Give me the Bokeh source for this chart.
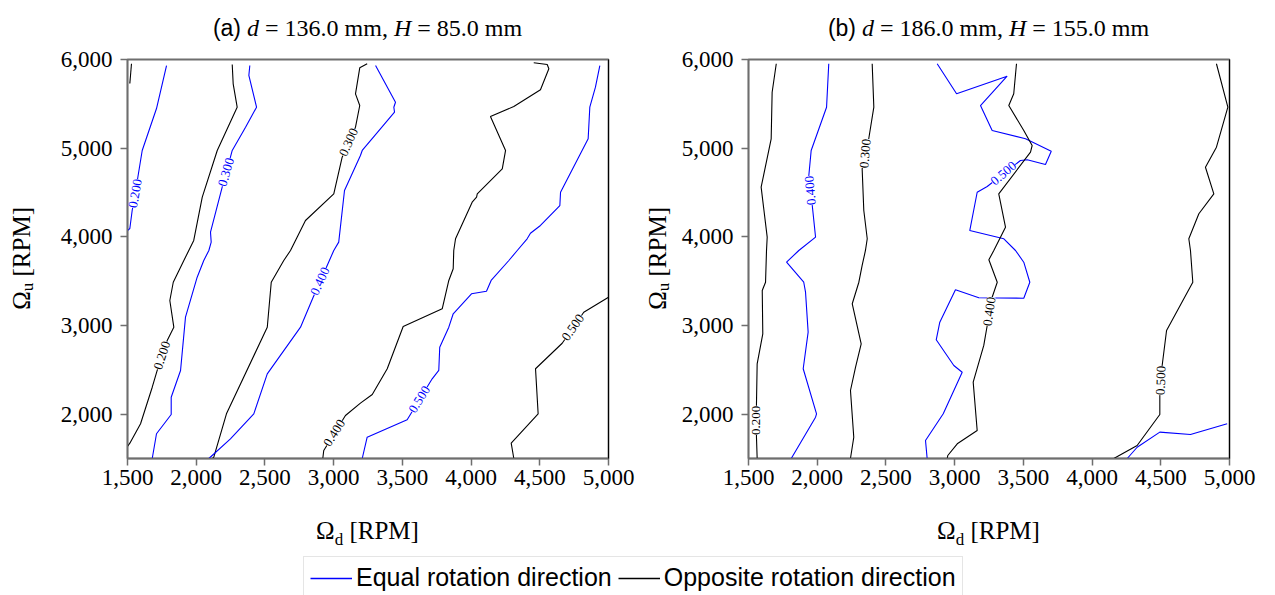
from bokeh.plotting import figure
from bokeh.models import (Range1d, FixedTicker, NumeralTickFormatter, LinearAxis, Div,
                          LabelSet, ColumnDataSource, Legend, LegendItem)
from bokeh.layouts import column, row
from bokeh.embed import file_html
from bokeh.resources import INLINE

BLUE = "#0000ff"
BLACK = "#000000"
SERIF = "Liberation Serif"
SANS = "Liberation Sans"

X_TICKS = [1500, 2000, 2500, 3000, 3500, 4000, 4500, 5000]
Y_TICKS = [2000, 3000, 4000, 5000, 6000]

# ---------------- panel (a): d = 136 mm, H = 85 mm ----------------
a_opp_010_x = [1529, 1517]
a_opp_010_y = [5952, 5729]
a_eq_020_x = [1784, 1711, 1607, 1575, 1534, 1517, 1500]
a_eq_020_y = [5932, 5447, 4974, 4669, 4297, 4094, 4070]
a_opp_020_x = [2262, 2269, 2298, 2153, 2044, 1982, 1910, 1833, 1808, 1837, 1789, 1716, 1680, 1595, 1517, 1500]
a_opp_020_y = [5944, 5726, 5462, 4974, 4447, 3959, 3733, 3488, 3282, 2981, 2831, 2493, 2304, 1892, 1673, 1635]
a_eq_030_x = [2390, 2383, 2439, 2359, 2262, 2249, 2189, 2104, 2109, 2092, 2055, 2007, 1922, 1886, 1818, 1818, 1711, 1680]
a_eq_030_y = [5932, 5820, 5462, 5237, 4974, 4898, 4560, 4052, 3940, 3846, 3733, 3545, 3094, 2493, 2191, 1996, 1779, 1500]
a_opp_030_x = [3244, 3190, 3159, 3190, 3159, 3062, 3001, 2795, 2686, 2637, 2546, 2517, 2220, 2128, 2118]
a_opp_030_y = [5952, 5906, 5613, 5481, 5237, 4898, 4485, 4184, 3846, 3733, 3488, 2981, 2004, 1515, 1500]
a_eq_040_x = [3305, 3450, 3438, 3443, 3208, 3195, 3079, 3037, 3001, 2953, 2851, 2759, 2517, 2419, 2249, 2092]
a_eq_040_y = [5932, 5518, 5462, 5406, 4974, 4917, 4523, 3940, 3846, 3677, 3319, 2981, 2455, 2004, 1722, 1500]
a_opp_040_x = [4456, 4554, 4566, 4505, 4311, 4141, 4251, 4227, 4045, 4040, 4008, 3887, 3874, 3870, 3838, 3790,
               3506, 3390, 3281, 3195, 3086, 2928, 2921]
a_opp_040_y = [5963, 5944, 5895, 5658, 5470, 5357, 4974, 4767, 4485, 4447, 4391, 3978, 3846, 3640, 3508, 3188,
               2989, 2512, 2222, 2124, 1985, 1590, 1500]
a_eq_050_x = [4937, 4905, 4864, 4852, 4651, 4646, 4505, 4432, 4408, 4336, 4275, 4146, 4112, 4003, 3870, 3838,
              3772, 3765, 3717, 3535, 3244, 3208]
a_eq_050_y = [5932, 5688, 5462, 5106, 4503, 4353, 4128, 4041, 3978, 3846, 3733, 3508, 3387, 3358, 3132, 2981,
              2755, 2493, 2399, 1937, 1740, 1500]
a_opp_050_x = [5000, 4820, 4663, 4469, 4488, 4292, 4311]
a_opp_050_y = [3319, 3150, 2800, 2512, 2004, 1673, 1500]

a_label_text = ["0.200", "0.200", "0.300", "0.300", "0.400", "0.400", "0.500", "0.500"]
a_label_kind = ["eq", "opp", "eq", "opp", "eq", "opp", "eq", "opp"]
a_label_x = [1558, 1752, 2219, 3110, 2902, 3006, 3625, 4742]
a_label_y = [4489, 2662, 4729, 5067, 3499, 1788, 2166, 2977]
a_label_angle = [80, 72, 74, 66, 66, 58, 58, 55]

# ---------------- panel (b): d = 186 mm, H = 155 mm ----------------
b_opp_020_x = [1702, 1672, 1665, 1592, 1636, 1631, 1624, 1600, 1604, 1563, 1558, 1558, 1563]
b_opp_020_y = [5952, 5631, 5106, 4560, 3996, 3846, 3488, 3395, 2906, 2568, 2117, 1740, 1500]
b_eq_040_x = [2084, 2068, 1956, 1939, 1964, 1988, 1866, 1777, 1902, 1915, 1934, 1898, 1995, 1988, 1811]
b_eq_040_y = [5952, 5462, 4974, 4692, 4353, 3996, 3846, 3714, 3488, 3376, 2925, 2512, 2004, 1966, 1500]
b_opp_030_x = [2400, 2412, 2375, 2327, 2339, 2364, 2351, 2327, 2303, 2255, 2320, 2279, 2242, 2266, 2242]
b_opp_030_y = [5952, 5462, 5106, 4767, 4297, 3978, 3846, 3677, 3488, 3245, 2794, 2530, 2267, 1740, 1500]
b_eq_050_x = [2873, 3014, 3382, 3188, 3273, 3516, 3703, 3661, 3528, 3479, 3237, 3164, 3110, 3358, 3443, 3503,
              3547, 3503, 3176, 3006, 2892, 2866, 2994, 3055, 2917, 2788, 2800]
b_eq_050_y = [5952, 5613, 5812, 5481, 5199, 5106, 4966, 4816, 4869, 4861, 4568, 4503, 4071, 3978, 3846, 3714,
              3488, 3308, 3313, 3403, 3037, 2839, 2549, 2473, 2004, 1703, 1500]
b_opp_040_x = [3450, 3430, 3394, 3503, 3564, 3552, 3321, 3370, 3285, 3249, 3310, 3273, 3237, 3212, 3135, 3164,
               3019, 2950, 2946]
b_opp_040_y = [5952, 5613, 5481, 5199, 5030, 4955, 4485, 4109, 3846, 3741, 3488, 3319, 3000, 2775, 2361, 1816,
               1666, 1534, 1500]
b_opp_050_x = [4905, 4988, 4905, 4825, 4886, 4777, 4704, 4716, 4733, 4542, 4510, 4493, 4493, 4328, 4158]
b_opp_050_y = [5952, 5462, 5011, 4785, 4485, 4260, 3978, 3846, 3488, 2944, 2549, 2211, 1996, 1647, 1500]
b_eq_060_x = [4983, 4716, 4493, 4328, 4256]
b_eq_060_y = [1892, 1771, 1797, 1627, 1500]

b_label_text = ["0.200", "0.400", "0.300", "0.500", "0.400", "0.500"]
b_label_kind = ["opp", "eq", "opp", "eq", "opp", "opp"]
b_label_x = [1558, 1951, 2351, 3356, 3254, 4502]
b_label_y = [1929, 4523, 4940, 4714, 3158, 2380]
b_label_angle = [90, 95, 85, 40, 82, 88]

PANEL_A = dict(
    lines=[(a_opp_010_x, a_opp_010_y, "opp"), (a_eq_020_x, a_eq_020_y, "eq"),
           (a_opp_020_x, a_opp_020_y, "opp"), (a_eq_030_x, a_eq_030_y, "eq"),
           (a_opp_030_x, a_opp_030_y, "opp"), (a_eq_040_x, a_eq_040_y, "eq"),
           (a_opp_040_x, a_opp_040_y, "opp"), (a_eq_050_x, a_eq_050_y, "eq"),
           (a_opp_050_x, a_opp_050_y, "opp")],
    labels=(a_label_text, a_label_kind, a_label_x, a_label_y, a_label_angle),
    tag="(a)", d="136.0", H="85.0",
)
PANEL_B = dict(
    lines=[(b_opp_020_x, b_opp_020_y, "opp"), (b_eq_040_x, b_eq_040_y, "eq"),
           (b_opp_030_x, b_opp_030_y, "opp"), (b_eq_050_x, b_eq_050_y, "eq"),
           (b_opp_040_x, b_opp_040_y, "opp"), (b_opp_050_x, b_opp_050_y, "opp"),
           (b_eq_060_x, b_eq_060_y, "eq")],
    labels=(b_label_text, b_label_kind, b_label_x, b_label_y, b_label_angle),
    tag="(b)", d="186.0", H="155.0",
)
COLORS = {"eq": BLUE, "opp": BLACK}

TOP = 44        # height of the title strip
FRAME_H = 399
BORDER_TOP = 15
BORDER_BOTTOM = 48
XLAB_H = 44
FIG_H = BORDER_TOP + FRAME_H + BORDER_BOTTOM


def make_panel(cfg, ylab_w, fig_w, bl, br):
    p = figure(width=fig_w, height=FIG_H, output_backend="svg", toolbar_location=None,
               x_range=Range1d(1500, 5000), y_range=Range1d(1500, 6000),
               min_border_left=bl, min_border_right=br,
               min_border_top=BORDER_TOP, min_border_bottom=BORDER_BOTTOM, margin=0)
    p.xgrid.visible = False
    p.ygrid.visible = False
    p.outline_line_color = "#6e6e6e"
    p.outline_line_width = 1.8
    for ax in (p.xaxis[0], p.yaxis[0]):
        ax.axis_line_color = "#6e6e6e"
        ax.axis_line_width = 1.5
        ax.major_tick_line_color = "#6e6e6e"
        ax.major_tick_line_width = 1.5
        ax.major_tick_out = 7
        ax.major_tick_in = 0
        ax.minor_tick_out = 0
        ax.minor_tick_in = 0
        ax.major_label_text_font = SERIF
        ax.major_label_text_font_size = "23px"
        ax.major_label_text_color = "#000000"
        ax.formatter = NumeralTickFormatter(format="0,0")
    p.xaxis[0].ticker = FixedTicker(ticks=X_TICKS)
    p.yaxis[0].ticker = FixedTicker(ticks=Y_TICKS)
    p.xaxis[0].major_label_standoff = 4
    p.yaxis[0].major_label_standoff = 8

    right = LinearAxis(ticker=FixedTicker(ticks=[]), axis_line_color="#000000", axis_line_width=1,
                       major_label_text_font_size="0px", major_tick_out=0, major_label_standoff=0)
    p.add_layout(right, "right")

    for xs, ys, kind in cfg["lines"]:
        p.line(xs, ys, line_color=COLORS[kind], line_width=1.1)

    text, kind, lx, ly, ang = cfg["labels"]
    src = ColumnDataSource(dict(x=lx, y=ly, text=text, angle=ang,
                                color=[COLORS[k] for k in kind]))
    p.add_layout(LabelSet(x="x", y="y", text="text", angle="angle", angle_units="deg", source=src,
                          text_color="color", text_font=SANS, text_font_size="13px",
                          text_align="center", text_baseline="middle",
                          background_fill_color="white", background_fill_alpha=1.0))

    frame_left = ylab_w + bl
    col_w = ylab_w + fig_w
    title = Div(width=col_w, height=TOP, margin=0, text=(
        f'<div style="width:481px;margin-left:{frame_left}px;padding-top:11px;text-align:center;'
        f'white-space:nowrap;font-family:\'{SERIF}\';font-size:24px;color:#000;">'
        f'<span style="font-family:\'{SANS}\';font-size:23px;">{cfg["tag"]}</span> '
        f'<i>d</i> = {cfg["d"]} mm, <i>H</i> = {cfg["H"]} mm</div>'))
    ylab = Div(width=ylab_w, height=FIG_H, margin=0, text=(
        f'<div style="width:{ylab_w}px;height:{FRAME_H}px;margin-top:{BORDER_TOP}px;display:flex;'
        f'align-items:center;justify-content:center;">'
        f'<span style="writing-mode:vertical-rl;transform:rotate(180deg);white-space:nowrap;'
        f'font-family:\'{SERIF}\';font-size:25px;color:#000;">'
        f'\u03a9<sub style="font-size:17px;">u</sub> [RPM]</span></div>'))
    xlab = Div(width=col_w, height=XLAB_H, margin=0, text=(
        f'<div style="width:481px;margin-left:{frame_left}px;padding-top:7px;text-align:center;'
        f'white-space:nowrap;font-family:\'{SERIF}\';font-size:25px;color:#000;">'
        f'\u03a9<sub style="font-size:17px;">d</sub> [RPM]</div>'))
    return column(title, row(ylab, p, margin=0), xlab, margin=0)


left = make_panel(PANEL_A, 44, 596, 83, 32)
right_panel = make_panel(PANEL_B, 36, 599, 72, 46)

p3 = figure(width=1275, height=45, output_backend="svg", toolbar_location=None,
            x_range=Range1d(0, 1), y_range=Range1d(0, 1), min_border=0, margin=0)
p3.axis.visible = False
p3.xgrid.visible = False
p3.ygrid.visible = False
p3.outline_line_color = None
r_eq = p3.line([5, 6], [5, 6], line_color=BLUE, line_width=1.3)
r_opp = p3.line([5, 6], [5, 6], line_color=BLACK, line_width=1.3)
leg = Legend(items=[LegendItem(label="Equal rotation direction", renderers=[r_eq]),
                    LegendItem(label="Opposite rotation direction", renderers=[r_opp])],
             orientation="horizontal", location=(303, -4),
             label_text_font=SANS, label_text_font_size="25px", label_text_color="#000000",
             glyph_width=42, label_standoff=4, spacing=6, padding=6, margin=0,
             border_line_color="#cccccc", border_line_width=1.2)
p3.add_layout(leg)

layout = column(row(left, right_panel, margin=0), p3, margin=0)
open("out.html", "w").write(file_html(layout, INLINE))
